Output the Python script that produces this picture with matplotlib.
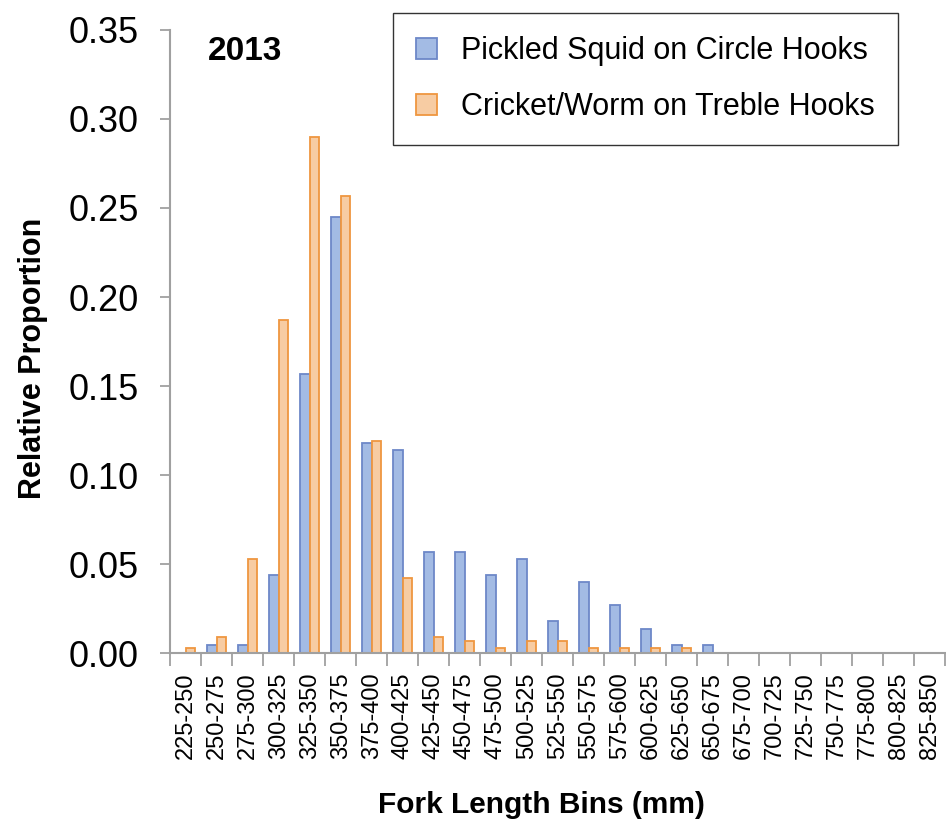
import numpy as np
import matplotlib.pyplot as plt
from matplotlib.patches import Patch

bins = ['225-250', '250-275', '275-300', '300-325', '325-350', '350-375',
        '375-400', '400-425', '425-450', '450-475', '475-500', '500-525',
        '525-550', '550-575', '575-600', '600-625', '625-650', '650-675',
        '675-700', '700-725', '725-750', '750-775', '775-800', '800-825',
        '825-850']
squid = [0.0, 0.0045, 0.0045, 0.044, 0.157, 0.245, 0.118, 0.114, 0.057,
         0.057, 0.044, 0.053, 0.018, 0.040, 0.027, 0.0135, 0.0045, 0.0045,
         0, 0, 0, 0, 0, 0, 0]
cricket = [0.003, 0.009, 0.053, 0.187, 0.290, 0.257, 0.119, 0.042, 0.009,
           0.0065, 0.003, 0.0065, 0.0065, 0.003, 0.003, 0.003, 0.003, 0.0,
           0, 0, 0, 0, 0, 0, 0]
yticks = [0.0, 0.05, 0.10, 0.15, 0.20, 0.25, 0.30, 0.35]

plt.rcParams['font.family'] = ['Liberation Sans Narrow', 'Liberation Sans', 'DejaVu Sans']

blue_fc, blue_ec = '#a3bbe4', '#6d88c8'
orng_fc, orng_ec = '#f7cca3', '#ef9640'
grey = '#a0a0a0'

fig = plt.figure(figsize=(9.46, 8.26), dpi=100)
ax = fig.add_axes([0.18, 0.2094, 0.819, 0.7543])

x = np.arange(len(bins))
w = 0.3
ax.bar(x - w / 2, squid, width=w, color=blue_fc, edgecolor=blue_ec, linewidth=1.3)
ax.bar(x + w / 2, cricket, width=w, color=orng_fc, edgecolor=orng_ec, linewidth=1.3)

ax.set_xlim(-0.5, len(bins) - 0.5)
ax.set_ylim(0, 0.35)
ax.set_yticks(yticks)
ax.set_yticklabels(['%.2f' % v for v in yticks], fontsize=26)
ax.set_xticks(x)
ax.set_xticklabels(bins, rotation=90, fontsize=17)
ax.tick_params(axis='x', length=0, pad=14)
# category separators as minor ticks
ax.set_xticks(np.arange(len(bins) + 1) - 0.5, minor=True)
ax.tick_params(axis='x', which='minor', length=9, width=1.3, color=grey, direction='out')
ax.tick_params(axis='y', length=7.5, width=1.3, color=grey, pad=15)

for side in ['top', 'right']:
    ax.spines[side].set_visible(False)
for side in ['left', 'bottom']:
    ax.spines[side].set_color(grey)
    ax.spines[side].set_linewidth(1.5)

ax.set_ylabel('Relative Proportion', fontsize=22, fontweight='bold')
ax.yaxis.set_label_coords(-0.158, 0.4735)
ax.set_xlabel('Fork Length Bins (mm)', fontsize=21.5, fontweight='bold')
ax.xaxis.set_label_coords(0.479, -0.221)
ax.text(0.048, 0.99, '2013', transform=ax.transAxes, fontsize=24,
        fontweight='bold', va='top', ha='left')

handles = [Patch(facecolor=blue_fc, edgecolor=blue_ec, linewidth=1.3),
           Patch(facecolor=orng_fc, edgecolor=orng_ec, linewidth=1.3)]
leg = ax.legend(handles, ['Pickled Squid on Circle Hooks',
                          'Cricket/Worm on Treble Hooks'],
                loc='upper left', bbox_to_anchor=(0.287, 1.027), borderaxespad=0,
                fontsize=22, frameon=True, fancybox=False, handlelength=0.7,
                handleheight=0.7, handletextpad=0.8, labelspacing=0.85,
                borderpad=0.75)
leg.get_frame().set_edgecolor('black')
leg.get_frame().set_linewidth(1.0)

fig.savefig('out.png', dpi=100)
